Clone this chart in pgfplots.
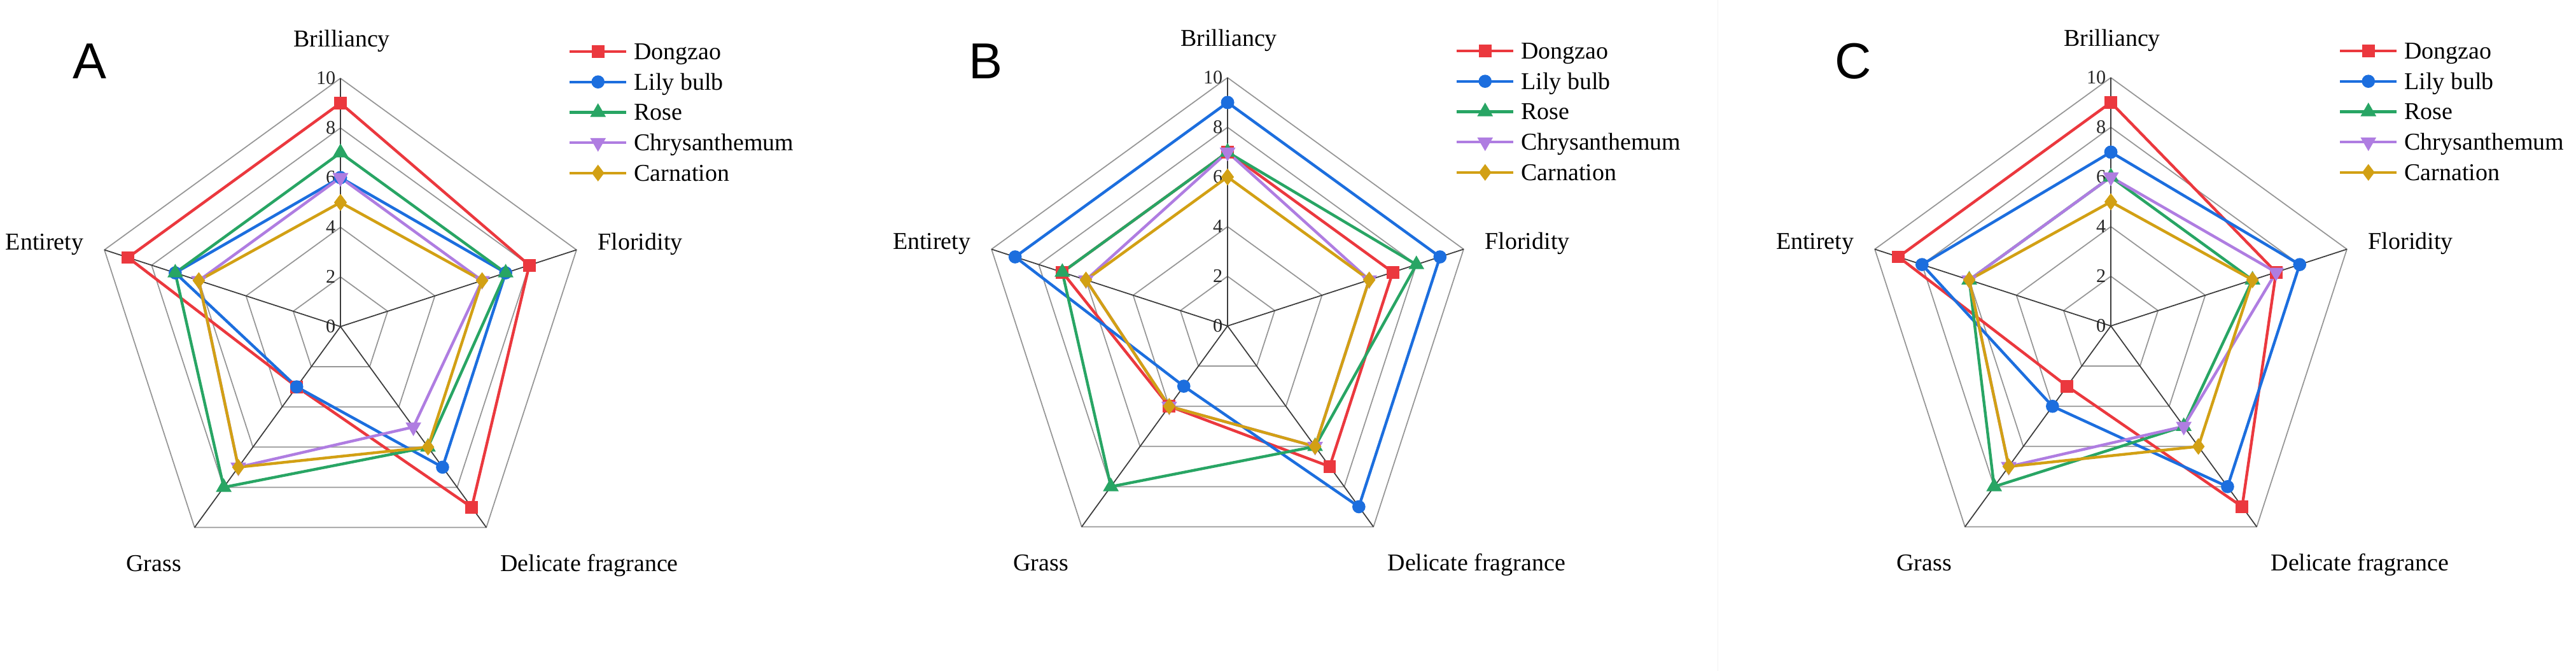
\documentclass[border=0pt]{standalone}
\usepackage{fontspec}
\setmainfont{Liberation Serif}
\newfontfamily\serifont{Liberation Serif}
\newfontfamily\panelfont{Liberation Sans}
\usepackage{pgfplots}
\pgfplotsset{compat=1.18}
\usepgfplotslibrary{polar}

\definecolor{cDong}{RGB}{235,56,62}
\definecolor{cLily}{RGB}{28,110,222}
\definecolor{cRose}{RGB}{40,165,100}
\definecolor{cChry}{RGB}{175,125,225}
\definecolor{cCarn}{RGB}{210,160,20}
\definecolor{gridgray}{RGB}{150,150,150}
\definecolor{spokegray}{RGB}{60,60,60}

\newcommand{\lblfont}{\serifont\fontsize{10.8}{12}\selectfont}
\newcommand{\tickfont}{\serifont\fontsize{8.6}{10}\selectfont}

\pgfplotsset{
  radar/.style={
    x=0.39cm, y=0.39cm, xmin=-13, xmax=13, ymin=-13, ymax=13,
    hide axis, clip=false, anchor=center,
    legend style={at={(axis cs:9.18,8.63)}, anchor=west, draw=none, fill=none,
      inner sep=0pt, outer sep=0pt, font=\lblfont,
      row sep=0.127cm, column sep=0.1cm,
      nodes={inner sep=0pt, text height=0.3cm, text depth=0.05cm}},
    legend cell align=left,
    legend image code/.code={\draw[mark repeat=2,mark phase=2,##1] plot coordinates {(0cm,0cm) (0.445cm,0cm) (0.89cm,0cm)};},
  },
  gridline/.style={forget plot, no markers, draw=gridgray, line width=0.5pt, data cs=polar},
  spoke/.style={forget plot, no markers, draw=spokegray, line width=0.5pt, data cs=polar},
  ser/.style={data cs=polar, line width=1.25pt, mark options={solid}},
  sDong/.style={ser, color=cDong, mark=square*, mark size=2.2pt},
  sLily/.style={ser, color=cLily, mark=*, mark size=2.3pt},
  sRose/.style={ser, color=cRose, mark=triangle*, mark size=2.8pt},
  sChry/.style={ser, color=cChry, mark=triangle*, mark options={rotate=180}, mark size=2.8pt},
  sCarn/.style={ser, color=cCarn, mark=diamond*, mark size=2.7pt},
}

\newcommand{\radarframe}{%
  \addplot[gridline] coordinates {(90,2) (18,2) (-54,2) (-126,2) (162,2) (90,2)};
  \addplot[gridline] coordinates {(90,4) (18,4) (-54,4) (-126,4) (162,4) (90,4)};
  \addplot[gridline] coordinates {(90,6) (18,6) (-54,6) (-126,6) (162,6) (90,6)};
  \addplot[gridline] coordinates {(90,8) (18,8) (-54,8) (-126,8) (162,8) (90,8)};
  \addplot[gridline] coordinates {(90,10) (18,10) (-54,10) (-126,10) (162,10) (90,10)};
  \addplot[spoke] coordinates {(90,10) (0,0) (18,10) (0,0) (-54,10) (0,0) (-126,10) (0,0) (162,10)};
  \node[anchor=east, inner sep=0pt, text=black!85, font=\tickfont] at (axis cs:-0.18,0) {0};
  \node[anchor=east, inner sep=0pt, text=black!85, font=\tickfont] at (axis cs:-0.18,2) {2};
  \node[anchor=east, inner sep=0pt, text=black!85, font=\tickfont] at (axis cs:-0.18,4) {4};
  \node[anchor=east, inner sep=0pt, text=black!85, font=\tickfont] at (axis cs:-0.18,6) {6};
  \node[anchor=east, inner sep=0pt, text=black!85, font=\tickfont] at (axis cs:-0.18,8) {8};
  \node[anchor=east, inner sep=0pt, text=black!85, font=\tickfont] at (axis cs:-0.18,10) {10};
  \node[anchor=base, inner sep=0pt, font=\lblfont] at (axis cs:0.05,11.28) {Brilliancy};
  \node[anchor=base, inner sep=0pt, font=\lblfont] at (axis cs:12.08,3.08) {Floridity};
  \node[anchor=base, inner sep=0pt, font=\lblfont] at (axis cs:10.03,-9.87) {Delicate fragrance};
  \node[anchor=base, inner sep=0pt, font=\lblfont] at (axis cs:-7.52,-9.87) {Grass};
  \node[anchor=base, inner sep=0pt, font=\lblfont] at (axis cs:-11.92,3.08) {Entirety};
}

\begin{document}
\begin{tikzpicture}
\useasboundingbox (0,0) rectangle (40.48cm,10.54cm);
\draw[black!5, line width=0.01cm] (26.99cm,0) -- (26.99cm,10.54cm);

% ---------------- Panel A ----------------
\begin{axis}[radar, at={(5.35cm,5.41cm)}]
\radarframe
\addplot[sDong] coordinates {(90,9) (18,8) (-54,9) (-126,3) (162,9) (90,9)};
\addplot[sLily] coordinates {(90,6) (18,7) (-54,7) (-126,3) (162,7) (90,6)};
\addplot[sRose] coordinates {(90,7) (18,7) (-54,6) (-126,8) (162,7) (90,7)};
\addplot[sChry] coordinates {(90,6) (18,6) (-54,5) (-126,7) (162,6) (90,6)};
\addplot[sCarn] coordinates {(90,5) (18,6) (-54,6) (-126,7) (162,6) (90,5)};
\legend{Dongzao, Lily bulb, Rose, Chrysanthemum, Carnation}
\end{axis}

% ---------------- Panel B ----------------
\begin{axis}[radar, at={(19.29cm,5.42cm)}]
\radarframe
\addplot[sDong] coordinates {(90,7) (18,7) (-54,7) (-126,4) (162,7) (90,7)};
\addplot[sLily] coordinates {(90,9) (18,9) (-54,9) (-126,3) (162,9) (90,9)};
\addplot[sRose] coordinates {(90,7) (18,8) (-54,6) (-126,8) (162,7) (90,7)};
\addplot[sChry] coordinates {(90,7) (18,6) (-54,6) (-126,4) (162,6) (90,7)};
\addplot[sCarn] coordinates {(90,6) (18,6) (-54,6) (-126,4) (162,6) (90,6)};
\legend{Dongzao, Lily bulb, Rose, Chrysanthemum, Carnation}
\end{axis}

% ---------------- Panel C ----------------
\begin{axis}[radar, at={(33.17cm,5.42cm)}]
\radarframe
\addplot[sDong] coordinates {(90,9) (18,7) (-54,9) (-126,3) (162,9) (90,9)};
\addplot[sLily] coordinates {(90,7) (18,8) (-54,8) (-126,4) (162,8) (90,7)};
\addplot[sRose] coordinates {(90,6) (18,6) (-54,5) (-126,8) (162,6) (90,6)};
\addplot[sChry] coordinates {(90,6) (18,7) (-54,5) (-126,7) (162,6) (90,6)};
\addplot[sCarn] coordinates {(90,5) (18,6) (-54,6) (-126,7) (162,6) (90,5)};
\legend{Dongzao, Lily bulb, Rose, Chrysanthemum, Carnation}
\end{axis}

\node[anchor=base west, inner sep=0pt, font=\panelfont\fontsize{22.6}{24}\selectfont] at (1.14cm,9.30cm) {A};
\node[anchor=base west, inner sep=0pt, font=\panelfont\fontsize{22.6}{24}\selectfont] at (15.22cm,9.30cm) {B};
\node[anchor=base west, inner sep=0pt, font=\panelfont\fontsize{22.6}{24}\selectfont] at (28.83cm,9.30cm) {C};
\end{tikzpicture}
\end{document}
